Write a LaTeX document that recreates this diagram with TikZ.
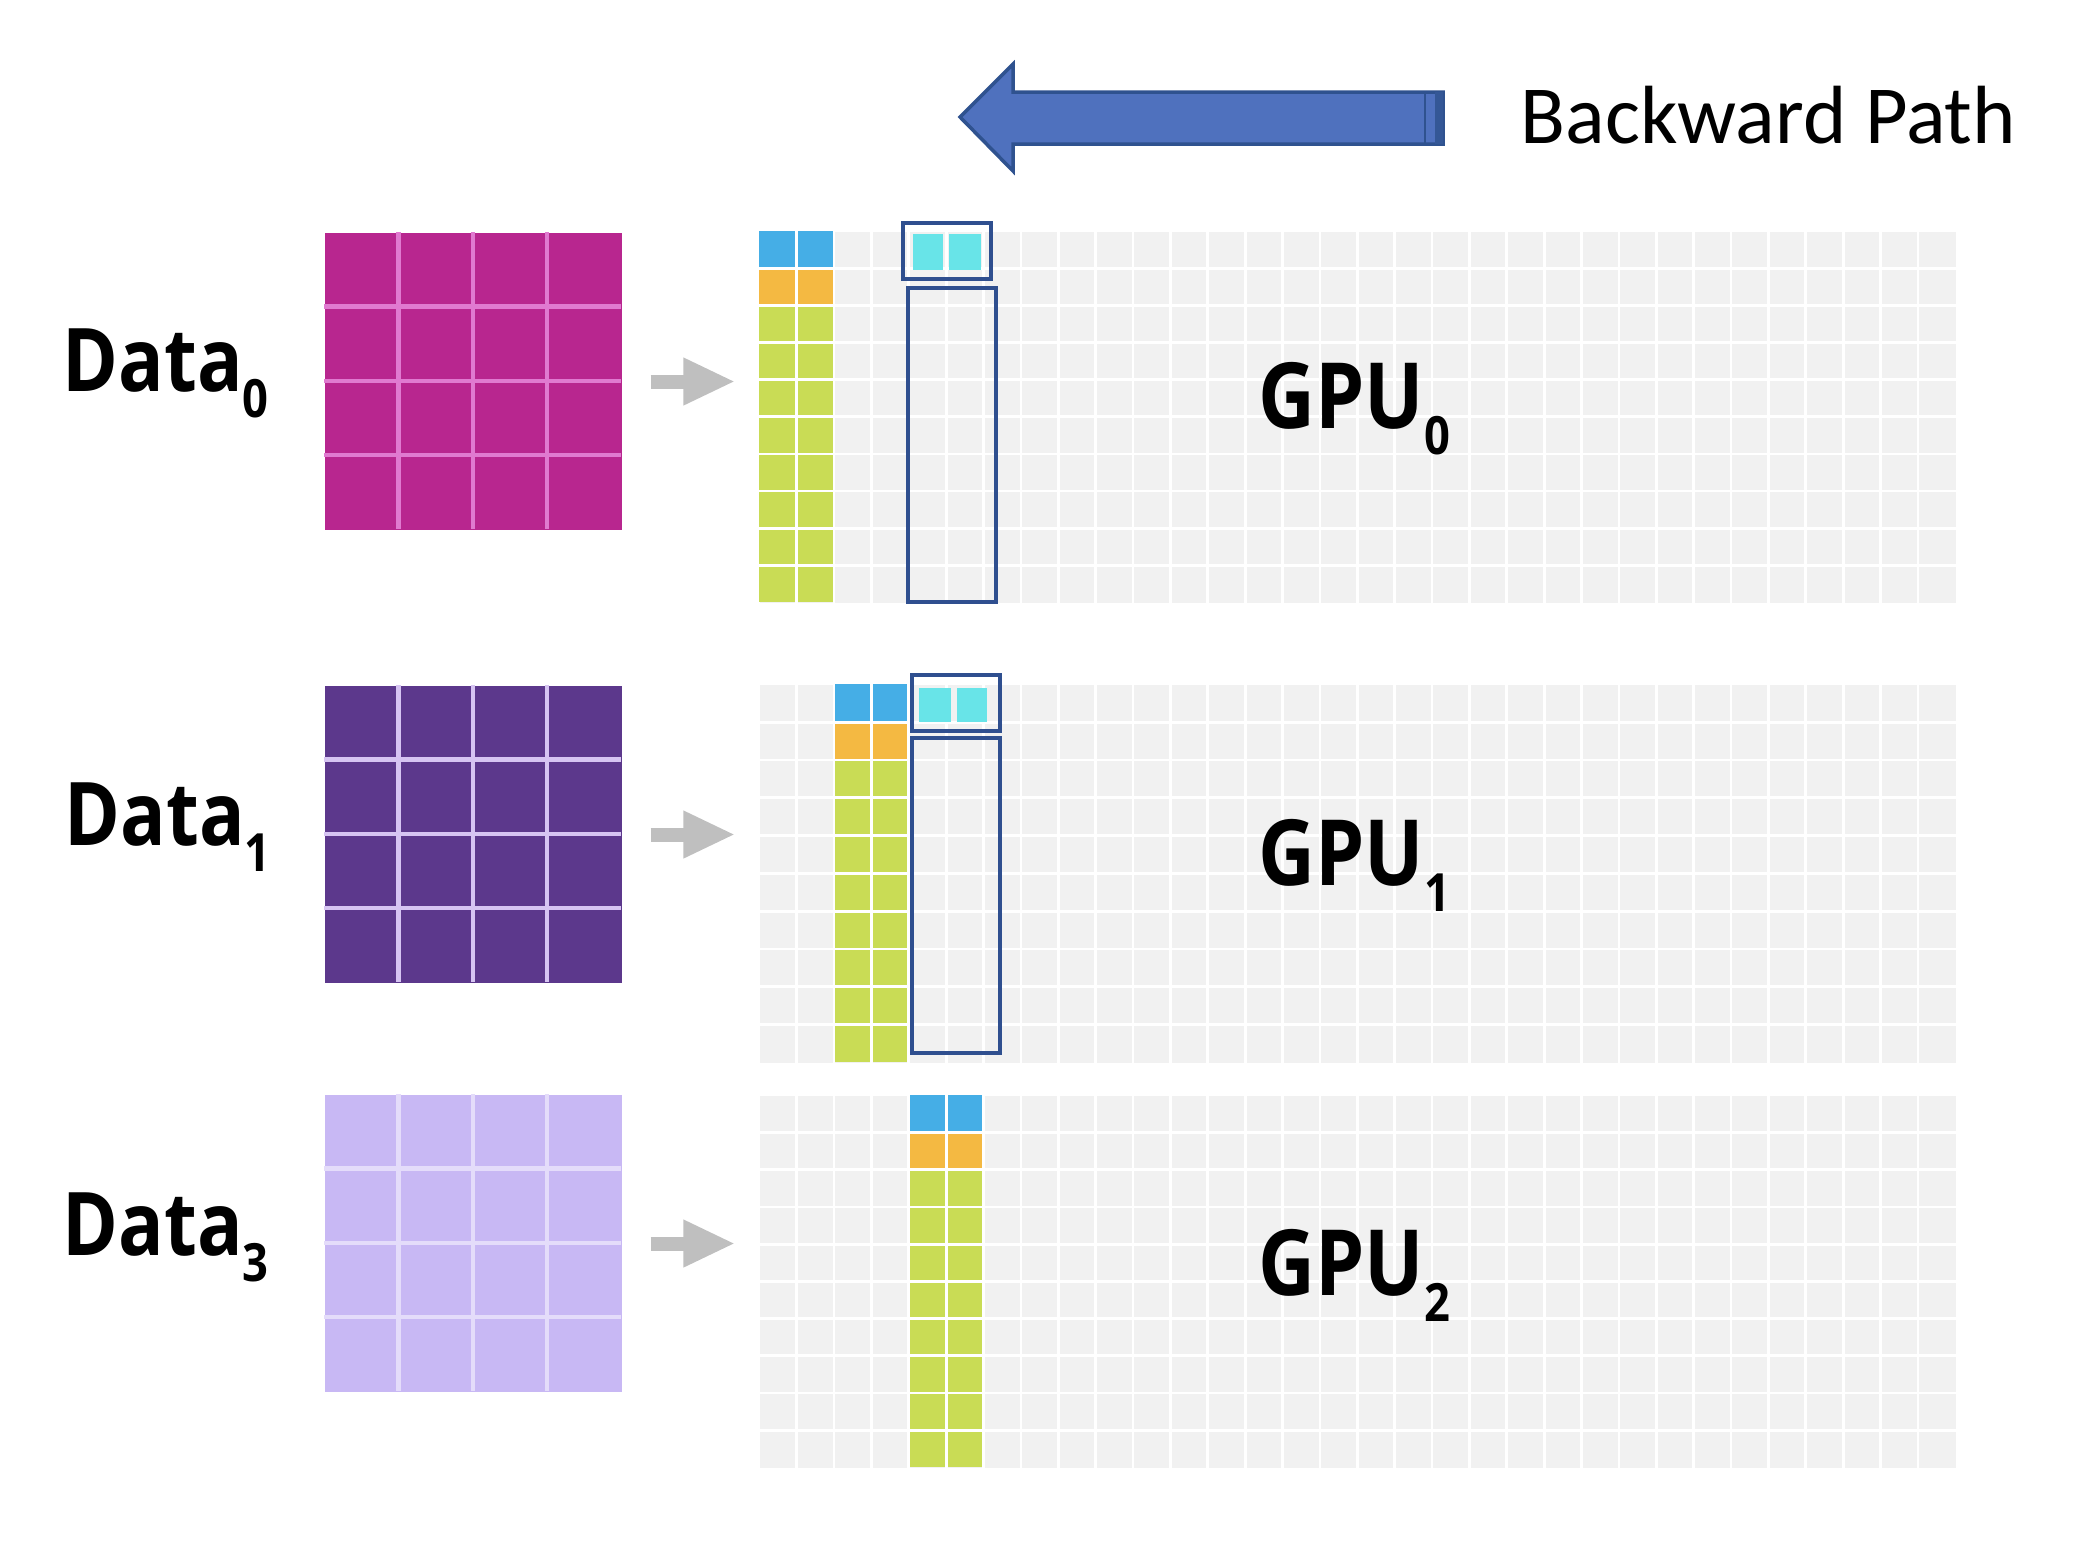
\documentclass[tikz,border=0pt]{standalone}
\usepackage{fontspec}
\setmainfont{Open Sans}
\newfontfamily\lblfont[FakeStretch=0.86]{Open Sans}
\newfontfamily\calfont{Carlito}
\usepackage{tikz}
\usetikzlibrary{arrows.meta,calc,positioning}

\definecolor{dzero}{HTML}{B8268F}
\definecolor{dzerol}{HTML}{E07AD0}
\definecolor{done}{HTML}{5C388C}
\definecolor{donel}{HTML}{D6C4F2}
\definecolor{dthree}{HTML}{C8B8F4}
\definecolor{dthreel}{HTML}{E4DCFA}
\definecolor{gpubg}{HTML}{F1F1F1}
\definecolor{wblue}{HTML}{45AEE6}
\definecolor{worange}{HTML}{F4B942}
\definecolor{wgreen}{HTML}{C9DC55}
\definecolor{wcyan}{HTML}{68E4E8}
\definecolor{boxblue}{HTML}{2F4F8F}
\definecolor{arrowfill}{HTML}{4F71BE}
\definecolor{arrowline}{HTML}{2F528F}

\newcommand{\lowidx}[1]{\raisebox{-7.5pt}{\fontsize{15}{15}\selectfont #1}}

\begin{document}
\begin{tikzpicture}[
        mat/.style={rectangle, minimum size=2.97cm, inner sep=0pt},
        panel/.style={rectangle, fill=gpubg, minimum width=11.96cm,
            minimum height=3.71cm, inner sep=0pt},
        matline/.style={line width=1.2pt},
        gridline/.style={white, line width=0.8pt},
        selbox/.style={draw=boxblue, line width=1.2pt},
        feed/.style={draw=gray!50, line width=0.14cm,
            -{Triangle[length=0.52cm, width=0.44cm]},
            shorten <=0.28cm, shorten >=0.24cm},
        lbl/.style={anchor=base west, inner sep=0pt,
            font=\lblfont\bfseries\fontsize{25}{25}\selectfont},
    ]
    \useasboundingbox (0,0) rectangle (20.79,-15.61);

    % backward arrow
    \draw[fill=arrowfill, draw=arrowline, line width=1pt]
        (9.60,-1.17) -- (10.13,-0.64) -- (10.13,-0.92) -- (14.43,-0.92)
        -- (14.43,-1.44) -- (10.13,-1.44) -- (10.13,-1.71) -- cycle;
    \fill[arrowline!85!arrowfill] (14.35,-0.92) rectangle (14.43,-1.44);
    \draw[arrowline, line width=0.8pt] (14.25,-0.92) -- (14.25,-1.44);
    \node[anchor=base west, inner sep=0pt,
          font=\calfont\fontsize{23.5}{24}\selectfont]
          (bp) at (15.20,-1.43) {Backward Path};

    % data matrices
    \node[mat, fill=dzero]  (d0) at (4.735,-3.815) {};
    \node[mat, fill=done]   (d1) at (4.735,-8.345) {};
    \node[mat, fill=dthree] (d3) at (4.735,-12.435) {};
    \foreach \m/\c in {d0/dzerol, d1/donel, d3/dthreel} {
        \foreach \i in {1,2,3} {
            \draw[matline, \c] ($(\m.north west)+(\i*0.7425,0)$) -- ++(0,-2.97);
            \draw[matline, \c] ($(\m.north west)+(0,-\i*0.7425)$) -- ++(2.97,0);
        }
    }
    \node[lbl] (l0) at (0.62,-3.91)  {Data\lowidx{0}};
    \node[lbl] (l1) at (0.64,-8.45)  {Data\lowidx{1}};
    \node[lbl] (l3) at (0.62,-12.55) {Data\lowidx{3}};

    % gpu panels
    \node[panel, minimum height=3.71cm] (g0) at (13.58,-4.175) {};
    \node[panel, minimum height=3.78cm] (g1) at (13.58,-8.74) {};
    \node[panel, minimum height=3.72cm] (g2) at (13.58,-12.82) {};

    %worked columns
    \foreach \g/\x/\h in {g0/0/0.371, g1/0.7475/0.378, g2/1.495/0.372} {
        \fill[wblue]   ($(\g.north west)+(\x,0)$) rectangle ++(0.7475,-\h);
        \fill[worange] ($(\g.north west)+(\x,-\h)$) rectangle ++(0.7475,-\h);
        \fill[wgreen]  ($(\g.north west)+(\x,-2*\h)$) rectangle ++(0.7475,-8*\h);
    }

    % white grid
    \foreach \g/\h in {g0/0.371, g1/0.378, g2/0.372} {
        \foreach \i in {1,...,31}
            \draw[gridline] ($(\g.north west)+(\i*0.37375,0)$) -- ($(\g.south west)+(\i*0.37375,0)$);
        \foreach \j in {1,...,9}
            \draw[gridline] ($(\g.north west)+(0,-\j*\h)$) -- ($(\g.north east)+(0,-\j*\h)$);
    }

    % selected weights
    \fill[wcyan] (9.13,-2.34) rectangle (9.43,-2.70);
    \fill[wcyan] (9.49,-2.34) rectangle (9.81,-2.70);
    \draw[selbox] (9.03,-2.23) rectangle (9.91,-2.79);
    \draw[selbox] (9.08,-2.88) rectangle (9.96,-6.02);

    \fill[wcyan] (9.19,-6.88) rectangle (9.51,-7.22);
    \fill[wcyan] (9.57,-6.88) rectangle (9.87,-7.22);
    \draw[selbox] (9.12,-6.75) rectangle (10.00,-7.31);
    \draw[selbox] (9.12,-7.38) rectangle (10.00,-10.53);

    \node[lbl, font=\lblfont\bfseries\fontsize{26}{26}\selectfont] (n0) at (12.58,-4.28)  {GPU\lowidx{0}};
    \node[lbl, font=\lblfont\bfseries\fontsize{26}{26}\selectfont] (n1) at (12.58,-8.85)  {GPU\lowidx{1}};
    \node[lbl, font=\lblfont\bfseries\fontsize{26}{26}\selectfont] (n2) at (12.58,-12.95) {GPU\lowidx{2}};

    % feed arrows
    \draw[feed] (d0.east) -- (d0.east -| g0.west);
    \draw[feed] (d1.east) -- (d1.east -| g1.west);
    \draw[feed] (d3.east) -- (d3.east -| g2.west);
\end{tikzpicture}
\end{document}
